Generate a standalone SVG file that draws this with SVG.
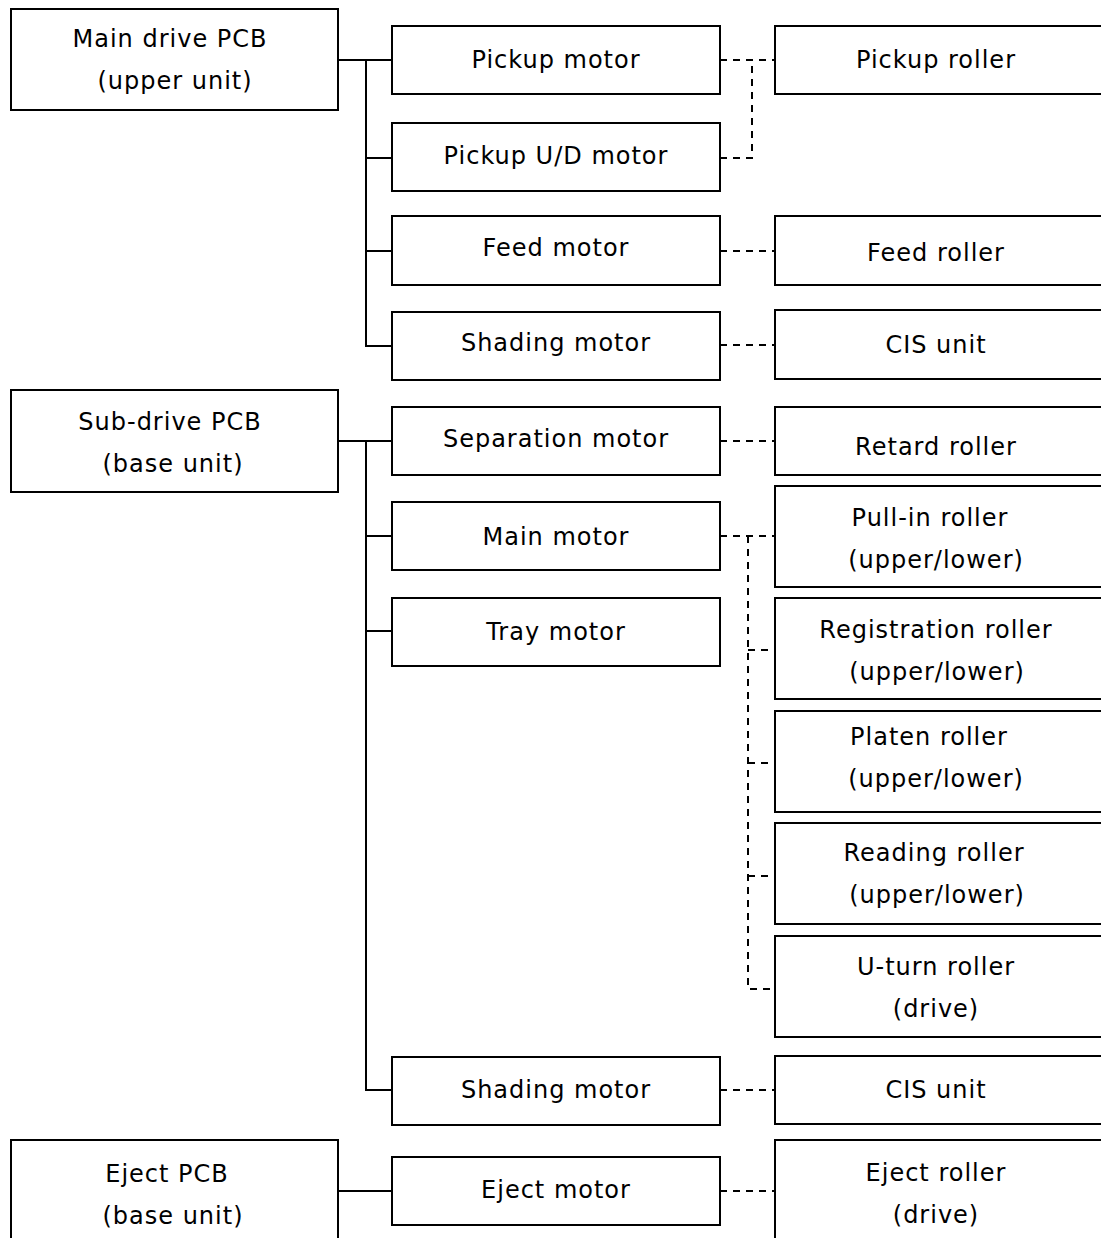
<svg xmlns="http://www.w3.org/2000/svg" width="1101" height="1238" viewBox="0 0 1101 1238">
<style>
.box{fill:#fff;stroke:#000;stroke-width:2}
.t{font-family:"DejaVu Sans",Verdana,sans-serif;font-size:24px;letter-spacing:1px;fill:#000;text-anchor:middle}
.solid{fill:none;stroke:#000;stroke-width:2}
.dash{fill:none;stroke:#000;stroke-width:2;stroke-dasharray:7 6}
</style>
<rect width="1101" height="1238" fill="#fff"/>
<g id="connectors">
<path class="solid" d="M338 60H392M366 60V346H392M366 158H392M366 251H392"/>
<path class="solid" d="M338 441H392M366 441V1090H392M366 536H392M366 631H392"/>
<path class="solid" d="M338 1191H392"/>
<path class="dash" d="M720 60H775"/>
<path class="dash" d="M720 158H752V60"/>
<path class="dash" d="M720 251H775"/>
<path class="dash" d="M720 345H775"/>
<path class="dash" d="M720 441H775"/>
<path class="dash" d="M720 536H775M748 536V989H775M748 650H775M748 763H775M748 876H775"/>
<path class="dash" d="M720 1090H775"/>
<path class="dash" d="M720 1191H775"/>
</g>
<g id="main-drive-pcb"><rect class="box" x="11" y="9" width="327" height="101"/><text class="t" x="170" y="47">Main drive PCB</text><text class="t" x="175" y="89">(upper unit)</text></g>
<g id="sub-drive-pcb"><rect class="box" x="11" y="390" width="327" height="102"/><text class="t" x="170" y="430">Sub-drive PCB</text><text class="t" x="173" y="472">(base unit)</text></g>
<g id="eject-pcb"><rect class="box" x="11" y="1140" width="327" height="110"/><text class="t" x="167" y="1182">Eject PCB</text><text class="t" x="173" y="1224">(base unit)</text></g>

<g id="pickup-motor"><rect class="box" x="392" y="26" width="328" height="68"/><text class="t" x="556" y="68">Pickup motor</text></g>
<g id="pickup-ud-motor"><rect class="box" x="392" y="123" width="328" height="68"/><text class="t" x="556" y="164">Pickup U/D motor</text></g>
<g id="feed-motor"><rect class="box" x="392" y="216" width="328" height="69"/><text class="t" x="556" y="256">Feed motor</text></g>
<g id="shading-motor-1"><rect class="box" x="392" y="312" width="328" height="68"/><text class="t" x="556" y="351">Shading motor</text></g>
<g id="separation-motor"><rect class="box" x="392" y="407" width="328" height="68"/><text class="t" x="556" y="447">Separation motor</text></g>
<g id="main-motor"><rect class="box" x="392" y="502" width="328" height="68"/><text class="t" x="556" y="545">Main motor</text></g>
<g id="tray-motor"><rect class="box" x="392" y="598" width="328" height="68"/><text class="t" x="556" y="640">Tray motor</text></g>
<g id="shading-motor-2"><rect class="box" x="392" y="1057" width="328" height="68"/><text class="t" x="556" y="1098">Shading motor</text></g>
<g id="eject-motor"><rect class="box" x="392" y="1157" width="328" height="68"/><text class="t" x="556" y="1198">Eject motor</text></g>

<g id="pickup-roller"><rect class="box" x="775" y="26" width="340" height="68"/><text class="t" x="936" y="68">Pickup roller</text></g>
<g id="feed-roller"><rect class="box" x="775" y="216" width="340" height="69"/><text class="t" x="936" y="261">Feed roller</text></g>
<g id="cis-unit-1"><rect class="box" x="775" y="310" width="340" height="69"/><text class="t" x="936" y="353">CIS unit</text></g>
<g id="retard-roller"><rect class="box" x="775" y="407" width="340" height="68"/><text class="t" x="936" y="455">Retard roller</text></g>
<g id="pull-in-roller"><rect class="box" x="775" y="486" width="340" height="101"/><text class="t" x="930" y="526">Pull-in roller</text><text class="t" x="936" y="568">(upper/lower)</text></g>
<g id="registration-roller"><rect class="box" x="775" y="598" width="340" height="101"/><text class="t" x="936" y="638">Registration roller</text><text class="t" x="937" y="680">(upper/lower)</text></g>
<g id="platen-roller"><rect class="box" x="775" y="711" width="340" height="101"/><text class="t" x="929" y="745">Platen roller</text><text class="t" x="936" y="787">(upper/lower)</text></g>
<g id="reading-roller"><rect class="box" x="775" y="823" width="340" height="101"/><text class="t" x="934" y="861">Reading roller</text><text class="t" x="937" y="903">(upper/lower)</text></g>
<g id="u-turn-roller"><rect class="box" x="775" y="936" width="340" height="101"/><text class="t" x="936" y="975">U-turn roller</text><text class="t" x="936" y="1017">(drive)</text></g>
<g id="cis-unit-2"><rect class="box" x="775" y="1056" width="340" height="68"/><text class="t" x="936" y="1098">CIS unit</text></g>
<g id="eject-roller"><rect class="box" x="775" y="1140" width="340" height="110"/><text class="t" x="936" y="1181">Eject roller</text><text class="t" x="936" y="1223">(drive)</text></g>
</svg>
